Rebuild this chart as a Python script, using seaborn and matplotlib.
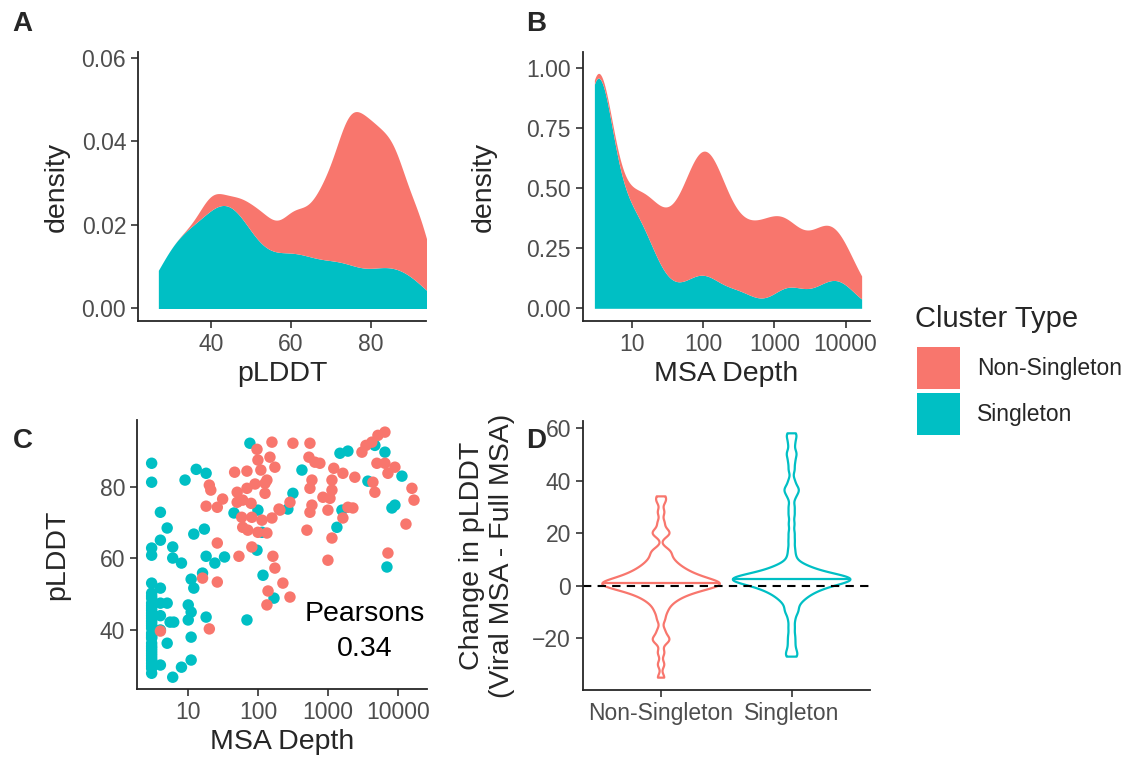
# Cluster type panels: pLDDT / MSA depth densities, scatter, change violins
import numpy as np
import pandas as pd
import seaborn as sns
import matplotlib.pyplot as plt
from matplotlib.patches import Patch

# MSA depth and pLDDT
single_depth = [76, 3, 3, 13, 18, 9, 4, 5, 12, 17, 4, 3, 3, 6, 6, 8, 18, 24, 33, 45,
                99, 113, 96, 117, 168, 69, 11, 12, 16, 3, 4,
                3, 3, 3, 3, 3, 3, 3, 3, 3, 3, 3, 3, 3, 3, 3, 3, 3, 3, 3, 3, 3, 3,
                3, 3, 3, 3, 3, 3, 3, 3,
                4, 4, 4, 4, 5, 5.5, 6.2, 10, 11, 10, 11, 5, 8, 11, 6, 18,
                1470, 1910, 4640, 6460, 421, 313, 265, 1570, 1330, 3690, 11300, 8130,
                8970, 6900]
single_plddt = [92.2, 86.6, 81.3, 84.9, 83.8, 81.9, 72.9, 68.5, 66.8, 68.2, 65.1, 62.9,
                60.9, 63.2, 60.1, 58.7, 60.6, 58.7, 60.4, 72.7,
                73.5, 67.3, 62.3, 55.3, 48.9, 42.8, 54.2, 51.7, 55.9, 53.1, 51.7,
                50.3, 48.9, 47.5, 46.1, 44.7, 43.3, 41.9, 40.5, 39.1, 37.7, 36.3, 34.9,
                33.5, 32.1, 30.7, 29.3, 27.9, 45.5, 42.5, 38.5, 35.5, 31.5,
                49.5, 46.8, 44.0, 41.2, 38.0, 34.2, 32.8, 29.9,
                47.5, 44.0, 40.0, 30.2, 47.5, 42.2, 42.2, 47.0, 45.0, 42.8, 38.0, 36.3,
                29.6, 31.6, 26.8, 43.6,
                89.4, 90.0, 91.6, 89.7, 84.7, 78.2, 73.8, 73.5, 68.7, 81.6, 83.0, 74.1,
                74.9, 57.6]

non_depth = [157, 96, 99, 147, 173, 46, 69, 109, 20, 21, 50, 69, 90, 125, 50, 60, 79,
             125, 18, 26, 31, 198, 58, 81, 113, 157, 60, 71, 99, 133, 81, 26, 53, 162,
             173, 16, 26, 225, 138, 133, 4, 20,
             313, 548, 530, 645, 760, 1200, 1130, 1130, 1060, 1620, 2400, 3030, 3460,
             4200, 5130, 6460, 4960, 6460, 8970, 4350, 4640, 7130, 15700, 16800, 12900,
             7130, 133, 284, 204, 548, 585, 585, 548, 496, 990, 1910, 2250, 1620, 1130,
             990, 284, 840]
non_plddt = [92.5, 90.5, 87.5, 88.3, 85.5, 84.1, 84.4, 84.7, 80.5, 79.1, 78.5, 79.6,
             80.8, 81.0, 75.7, 76.3, 75.4, 78.2, 74.6, 74.3, 76.6, 73.8, 71.5, 71.5,
             70.7, 71.3, 68.7, 67.9, 67.3, 67.1, 63.2, 64.3, 60.6, 60.6, 57.3, 54.5,
             53.4, 53.1, 50.9, 47.0, 39.7, 40.3,
             92.2, 92.2, 88.3, 86.9, 86.6, 85.2, 81.9, 79.1, 76.8, 83.8, 82.7, 89.7,
             91.6, 92.5, 94.4, 95.3, 86.6, 86.6, 85.5, 81.3, 78.5, 83.8, 79.6, 76.3,
             69.6, 61.5, 81.9, 75.7, 73.5, 79.6, 81.9, 74.9, 72.9, 67.9, 73.5, 74.3,
             74.1, 71.3, 65.7, 59.5, 49.2, 77.1]

# change in pLDDT (viral MSA - full MSA), estimated from the violin shapes
non_change = [1.30, 1.49, 1.69, 1.90, 2.11, 2.34, 2.58, 2.81, 3.08, 3.34, 3.63, 3.91,
              4.24, 4.56, 4.91, 5.29, 5.69, 6.13, 6.60, 7.10, 7.66, 8.30, 9.00, 9.80,
              10.75, 11.88, 13.0, 13.8,
              1.13, 0.99, 0.86, 0.71, 0.54, 0.37, 0.21, 0.04, -0.15, -0.33, -0.54,
              -0.74, -0.97, -1.20, -1.46, -1.73, -2.01, -2.32, -2.66, -3.02, -3.42,
              -3.88, -4.38, -4.95, -5.63, -6.43, -7.43, -8.82,
              34.0, 32.0, 28.0, 24.0, 21.0, 20.0, 19.2,
              -10.5, -13.0, -17.0, -19.5, -20.5, -21.5, -25.5, -30.0, -35.0]
single_change = [2.05, 2.15, 2.26, 2.37, 2.49, 2.61, 2.73, 2.86, 3.0, 3.14, 3.29, 3.45,
                 3.62, 3.79, 3.98, 4.18, 4.40, 4.62, 4.88, 5.15, 5.45, 5.79, 6.16, 6.58,
                 7.09, 7.69,
                 1.92, 1.77, 1.61, 1.44, 1.26, 1.08, 0.88, 0.69, 0.48, 0.27, 0.04, -0.20,
                 -0.46, -0.72, -1.0, -1.32, -1.63, -1.98, -2.37, -2.77, -3.23, -3.75,
                 -4.31, -4.96, -5.72, -6.63,
                 8.0, 9.5, 11.5, 14.0, 17.0, 20.0, 23.5, 27.0, 30.0, 33.5, 35.5, 36.5,
                 37.5, 40.0, 44.0, 47.0, 49.5, 51.0, 54.0, 56.5, 58.0,
                 -8.0, -9.5, -10.5, -13.0, -16.0, -19.0, -21.5, -24.0, -26.0, -27.0]

types = ["Non-Singleton", "Singleton"]
colors = ["#F8766D", "#00BFC4"]
pal = dict(zip(types, colors))

pts = pd.DataFrame({
    "MSA Depth": single_depth + non_depth,
    "pLDDT": single_plddt + non_plddt,
    "Cluster Type": ["Singleton"] * len(single_depth) + ["Non-Singleton"] * len(non_depth),
})
chg = pd.DataFrame({
    "change": non_change + single_change,
    "Cluster Type": ["Non-Singleton"] * len(non_change) + ["Singleton"] * len(single_change),
})


def nrd0(kde):
    # R's default bandwidth, as a factor of the sample sd
    x = kde.dataset[0]
    sd = x.std(ddof=1)
    q75, q25 = np.percentile(x, [75, 25])
    lo = min(sd, (q75 - q25) / 1.34)
    return 0.9 * lo * len(x) ** (-0.2) / sd


sns.set_style("ticks")
plt.rcParams["font.family"] = ["Liberation Sans", "DejaVu Sans"]
plt.rcParams["axes.linewidth"] = 1.3

fig = plt.figure(figsize=(11.3, 7.6), dpi=100)
axA = fig.add_axes([0.1221, 0.5776, 0.2549, 0.354])
axB = fig.add_axes([0.5157, 0.5776, 0.2542, 0.354])
axC = fig.add_axes([0.1212, 0.0934, 0.2566, 0.354])
axD = fig.add_axes([0.5157, 0.0921, 0.2542, 0.354])

# A
sns.kdeplot(data=pts, x="pLDDT", hue="Cluster Type", hue_order=types, palette=pal,
            multiple="stack", common_norm=False, cut=0, bw_method=nrd0, bw_adjust=0.7,
            gridsize=512, linewidth=0, alpha=1, legend=False, ax=axA)
axA.set_xlim(21.7, 93.8)
axA.set_ylim(-0.003, 0.0614)
axA.set_xticks([40, 60, 80])
axA.set_yticks([0, 0.02, 0.04, 0.06])
axA.set_yticklabels(["0.00", "0.02", "0.04", "0.06"])
axA.set_ylabel("density")

# B
sns.kdeplot(data=pts, x="MSA Depth", hue="Cluster Type", hue_order=types, palette=pal,
            multiple="stack", common_norm=False, cut=0, bw_method=nrd0, bw_adjust=0.8,
            gridsize=512, log_scale=True, linewidth=0, alpha=1, legend=False, ax=axB)
axB.set_xlim(2.06, 22000)
axB.set_ylim(-0.053, 1.068)
axB.set_yticks([0, 0.25, 0.5, 0.75, 1.0])
axB.set_yticklabels(["0.00", "0.25", "0.50", "0.75", "1.00"])
axB.set_ylabel("density")

# C
sns.scatterplot(data=pts, x="MSA Depth", y="pLDDT", hue="Cluster Type", palette=pal,
                s=68, linewidth=0, alpha=1, legend=False, ax=axC)
axC.set_xscale("log")
axC.set_xlim(1.85, 25700)
axC.set_ylim(23.5, 98.7)
axC.set_yticks([40, 60, 80])
axC.text(3300, 39.5, "Pearsons\n0.34", ha="center", va="center", fontsize=20.5,
         linespacing=1.45, color="black")

for ax in (axB, axC):
    ax.set_xticks([10, 100, 1000, 10000])
    ax.set_xticklabels(["10", "100", "1000", "10000"])
    ax.minorticks_off()

# D
n_before = len(axD.lines)
sns.violinplot(data=chg, x="Cluster Type", y="change", hue="Cluster Type", order=types,
               hue_order=types, palette=pal, fill=False, inner="quart", cut=0,
               density_norm="area", width=0.9, linewidth=1.6, bw_method=nrd0,
               bw_adjust=0.6, gridsize=512, legend=False, ax=axD)
# keep only the median line of the quartiles, drawn solid
new_lines = axD.lines[n_before:]
for i, ln in enumerate(list(new_lines)):
    if i % 3 != 1:
        ln.remove()
    else:
        ln.set_linestyle("-")
        ln.set_linewidth(1.6)
axD.axhline(0, color="black", linestyle=(0, (4, 3)), linewidth=1.5)
axD.set_xlim(-0.6, 1.6)
axD.set_ylim(-39.7, 62.7)
axD.set_yticks([-20, 0, 20, 40, 60])
axD.set_xlabel("")
axD.set_ylabel("Change in pLDDT\n(Viral MSA - Full MSA)")

for ax in (axA, axB, axC, axD):
    sns.despine(ax=ax)
    ax.tick_params(labelsize=16.5, labelcolor="#4D4D4D", length=5, width=1.2,
                   color="#333333")
    ax.xaxis.label.set_size(20.5)
    ax.yaxis.label.set_size(20.5)
    ax.yaxis.label.set_va("center")
    ax.set_facecolor("white")

# y titles lined up per column, as in the reference layout
axA.yaxis.set_label_coords(-0.281, 0.5)
axC.yaxis.set_label_coords(-0.276, 0.5)
axB.yaxis.set_label_coords(-0.345, 0.5)
axD.yaxis.set_label_coords(-0.334, 0.5)

for letter, x, y in [("A", 0.011, 0.968), ("B", 0.466, 0.968),
                     ("C", 0.011, 0.42), ("D", 0.466, 0.42)]:
    fig.text(x, y, letter, fontsize=20, fontweight="bold", va="center")

fig.text(0.8097, 1 - 327 / 760, "Cluster Type", fontsize=21, va="baseline")
handles = [Patch(facecolor=c, edgecolor="none") for c in colors]
leg = fig.legend(handles, types, loc="upper left", bbox_to_anchor=(0.8115, 1 - 347 / 760),
                 frameon=False, fontsize=16.5, handlelength=1.88, handleheight=2.44,
                 labelspacing=0.17, handletextpad=0.74, borderpad=0, borderaxespad=0)

fig.savefig("out.png", dpi=100, facecolor="white")
